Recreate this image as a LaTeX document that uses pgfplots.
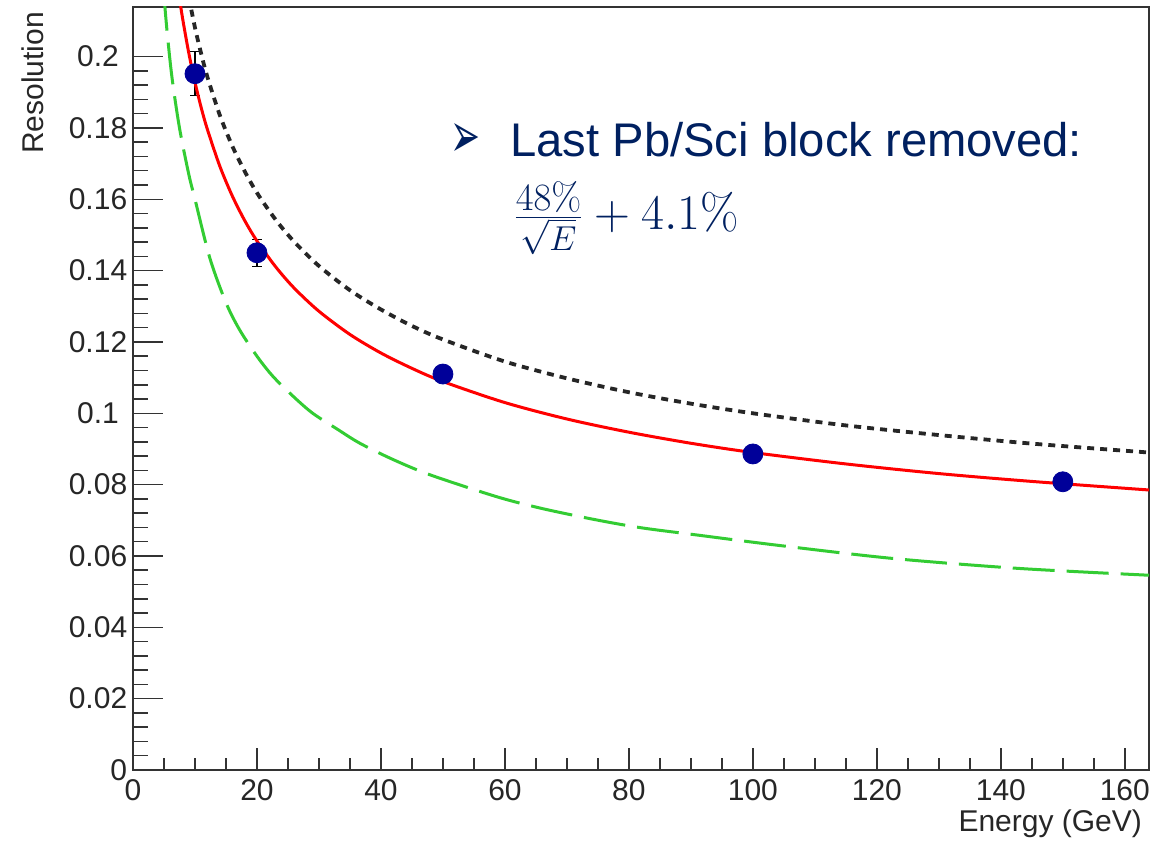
\documentclass[border=0pt]{standalone}
\usepackage[no-math]{fontspec}
\setmainfont{Liberation Sans}
\newfontfamily\symfont{DejaVu Sans}
\usepackage{graphicx}
\usepackage{pgfplots}
\usepackage{pgfplotstable}
\pgfplotsset{compat=1.18}

\definecolor{rootblue}{RGB}{0,0,153}
\definecolor{rootgreen}{RGB}{51,204,51}
\definecolor{navytext}{RGB}{0,32,96}

% measured points: energy, resolution, error
\pgfplotstableread{
E    res     err
10   0.1952  0.0062
20   0.1450  0.0038
50   0.1110  0.0020
100  0.0886  0.0015
150  0.0808  0.0015
}\datatab

\begin{document}
\begin{tikzpicture}
\useasboundingbox (-66.5pt,-36pt) rectangle (510pt,385pt);
\begin{axis}[
  at={(0,0)}, anchor=south west,
  scale only axis, width=508pt, height=381.5pt,
  xmin=0, xmax=163.9, ymin=0, ymax=0.2139,
  axis line style={black!80, line width=1pt},
  tick pos=left, tick align=inside,
  tick style={black!80, line width=0.75pt},
  major x tick style={/pgfplots/major tick length=11pt},
  minor x tick style={/pgfplots/minor tick length=6pt},
  major y tick style={/pgfplots/major tick length=15pt},
  minor y tick style={/pgfplots/minor tick length=7.5pt},
  xtick={0,20,40,60,80,100,120,140,160}, minor x tick num=3,
  ytick={0,0.02,0.04,0.06,0.08,0.1,0.12,0.14,0.16,0.18,0.2}, minor y tick num=4,
  yticklabels={\makebox[29pt][r]{0},0.02,0.04,0.06,0.08,0.1,0.12,0.14,0.16,0.18,0.2},
  /pgf/number format/assume math mode=true,
  ticklabel style={font=\fontsize{15}{17}\selectfont, text=black!85},
  yticklabel style={anchor=center, xshift=-17.5pt},
  xticklabel style={yshift=-1.3pt},
  label style={font=\fontsize{15}{17}\selectfont, text=black!85},
  xlabel={Energy (GeV)},
  xlabel style={at={([yshift=-30.8pt]rel axis cs:1,0)}, anchor=base east},
  ylabel={Resolution},
  ylabel style={at={([xshift=-44.8pt,yshift=1pt]rel axis cs:0,1)}, anchor=base east, rotate=0},
]
\addplot[only marks, mark=*, mark size=5pt, mark options={fill=rootblue, draw=rootblue},
  error bars/.cd, y dir=both, y explicit,
  error bar style={black, line width=0.6pt},
  error mark options={rotate=90, mark size=2.5pt, black, line width=0.6pt}]
  table[x=E, y=res, y error=err] {\datatab};

% green dashed
\addplot[rootgreen, line width=1.5pt, dash pattern=on 21pt off 6pt, smooth] coordinates {
  (4.9,0.219) (5.5,0.207) (6.3,0.194) (7.5,0.180) (9,0.167) (10,0.160)
  (12.4,0.1435) (15,0.131) (17.2,0.1234) (20,0.116) (22.6,0.1103) (26,0.1045)
  (29,0.1000) (33,0.0955) (36.6,0.0916) (42,0.0870) (48,0.0827) (58.7,0.0766)
  (66,0.0733) (74.8,0.0701) (82,0.0679) (90.9,0.0659) (104,0.0630)
  (122.6,0.0593) (143,0.0565) (163.9,0.0546)
};

% black dotted
\addplot[black!85, line width=1.9pt, dash pattern=on 3.5pt off 3pt, smooth] coordinates {
  (9,0.2167) (10,0.2081) (11,0.2008) (12,0.1943) (14,0.1836) (16,0.1750)
  (18,0.1679) (20,0.1618) (23,0.1543) (26,0.1481) (30,0.1413) (35,0.1345)
  (40,0.1291) (45,0.1245) (50,0.1207) (60,0.1145) (70,0.1098) (80,0.1059)
  (90,0.1027) (100,0.1000) (115,0.0966) (130,0.0939) (145,0.0915) (163.9,0.0890)
};

% red fit
\addplot[red, line width=1.5pt, smooth] coordinates {
  (7.5,0.2163) (8,0.2107) (9,0.2010) (10,0.1928) (11,0.1857) (12,0.1796)
  (14,0.1693) (16,0.1610) (18,0.1541) (20,0.1483) (23,0.1411) (26,0.1351)
  (30,0.1286) (35,0.1221) (40,0.1169) (45,0.1126) (50,0.1089) (60,0.1030)
  (70,0.0984) (80,0.0947) (90,0.0916) (100,0.0890) (115,0.0858) (130,0.0831)
  (145,0.0809) (163.9,0.0785)
};

\node[anchor=south west, inner sep=0, text=navytext]
  at (axis cs:51.2,0.1717) {\resizebox{15pt}{17pt}{\symfont ➢}};
\node[anchor=base west, inner sep=0, text=navytext, font=\fontsize{23.6}{28}\selectfont]
  at (axis cs:60.8,0.1719) {Last Pb/Sci block removed:};
\node[anchor=base west, inner sep=0, text=navytext, font=\fontsize{24.5}{29}\selectfont]
  at (axis cs:61.3,0.1514) {$\frac{\scalebox{1.12}{$\scriptstyle 48\%$}}{\sqrt{E}}+4.1\%$};
\end{axis}
\end{tikzpicture}
\end{document}
